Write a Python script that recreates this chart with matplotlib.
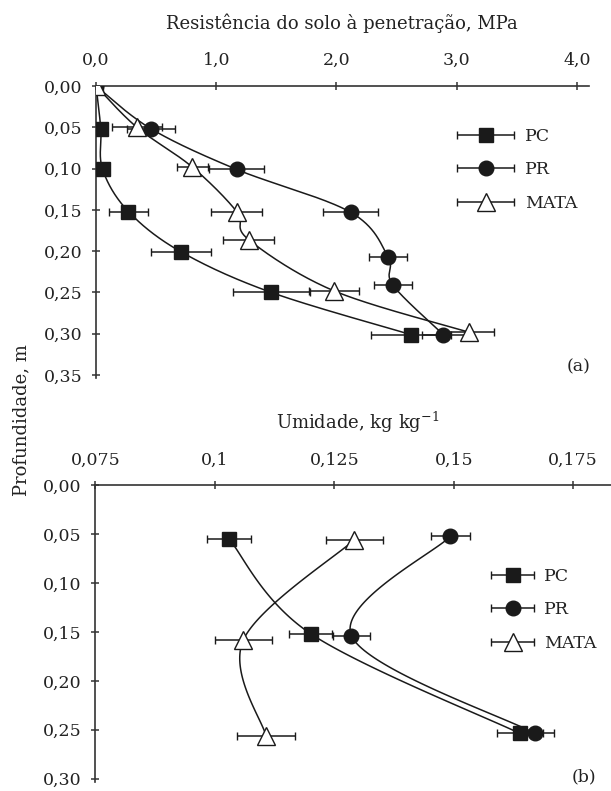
import numpy as np
import matplotlib
matplotlib.use('Agg')
import matplotlib.pyplot as plt
from matplotlib.container import ErrorbarContainer
from matplotlib.legend_handler import HandlerErrorbar

# ---------------- data: panel (a) penetration resistance (MPa) vs depth (m)
pc_a_x = [0.0, 0.04, 0.055, 0.27, 0.71, 1.46, 2.62]
pc_a_y = [0.0, 0.052, 0.101, 0.152, 0.201, 0.250, 0.301]
pc_a_err = [0.0, 0.0, 0.0, 0.16, 0.25, 0.32, 0.33]

pr_a_x = [0.0, 0.46, 1.17, 2.12, 2.43, 2.47, 2.89]
pr_a_y = [0.0, 0.052, 0.101, 0.153, 0.207, 0.241, 0.301]
pr_a_err = [0.0, 0.20, 0.23, 0.23, 0.16, 0.155, 0.18]

mata_a_x = [0.0, 0.34, 0.80, 1.17, 1.27, 1.98, 3.10]
mata_a_y = [0.0, 0.050, 0.098, 0.152, 0.186, 0.248, 0.298]
mata_a_err = [0.0, 0.21, 0.13, 0.21, 0.21, 0.21, 0.21]

# ---------------- data: panel (b) moisture (kg/kg) vs depth (m)
pc_b_x = [0.1030, 0.1201, 0.1638]
pc_b_y = [0.0552, 0.152, 0.2536]
pc_b_err = [0.0046, 0.0045, 0.0048]

pr_b_x = [0.1493, 0.1286, 0.1670]
pr_b_y = [0.0525, 0.154, 0.2536]
pr_b_err = [0.0040, 0.0039, 0.0040]

mata_b_x = [0.1292, 0.1060, 0.1107]
mata_b_y = [0.056, 0.158, 0.256]
mata_b_err = [0.006, 0.006, 0.006]

series_names = ['PC', 'PR', 'MATA']

xticks_a = [0, 1, 2, 3, 4]
xticklabels_a = ['0,0', '1,0', '2,0', '3,0', '4,0']
yticks_a = [0.0, 0.05, 0.10, 0.15, 0.20, 0.25, 0.30, 0.35]
yticklabels_a = ['0,00', '0,05', '0,10', '0,15', '0,20', '0,25', '0,30', '0,35']

xticks_b = [0.075, 0.1, 0.125, 0.15, 0.175]
xticklabels_b = ['0,075', '0,1', '0,125', '0,15', '0,175']
yticks_b = [0.0, 0.05, 0.10, 0.15, 0.20, 0.25, 0.30]
yticklabels_b = ['0,00', '0,05', '0,10', '0,15', '0,20', '0,25', '0,30']

# ---------------- style
plt.rcParams['font.family'] = ['DejaVu Serif']
plt.rcParams['mathtext.fontset'] = 'dejavuserif'
TXT = '#222222'
AXC = '#333333'
FS = 12.5

W, H = 611, 791
fig = plt.figure(figsize=(W / 100, H / 100), dpi=100)

ax1 = fig.add_axes([96 / W, 1 - 378.4 / H, 492.8 / W, 292.4 / H])
ax2 = fig.add_axes([95.3 / W, 1 - 781.7 / H, 515.7 / W, 296.7 / H])

ax1.set_xlim(0, 4.1)
ax1.set_ylim(0.354, 0)
ax2.set_xlim(0.075, 0.1829)
ax2.set_ylim(0.303, 0)


def smooth(ax, x, y, n=50):
    pts = ax.transData.transform(np.column_stack([x, y]))
    P = np.vstack([pts[0], pts, pts[-1]])
    out = []
    t = np.linspace(0, 1, n)[:, None]
    for i in range(1, len(P) - 2):
        p0, p1, p2, p3 = P[i - 1], P[i], P[i + 1], P[i + 2]
        c1 = p1 + (p2 - p0) / 6
        c2 = p2 - (p3 - p1) / 6
        b = (1 - t) ** 3 * p1 + 3 * (1 - t) ** 2 * t * c1 + 3 * (1 - t) * t ** 2 * c2 + t ** 3 * p2
        out.append(b)
    d = ax.transData.inverted().transform(np.vstack(out))
    return d[:, 0], d[:, 1]


styles = {
    'PC': dict(fmt='s', ms=10.5, mfc='#1a1a1a', mec='#1a1a1a'),
    'PR': dict(fmt='o', ms=10.5, mfc='#1a1a1a', mec='#1a1a1a'),
    'MATA': dict(fmt='^', ms=13, mfc='white', mec='#1a1a1a'),
}


def draw(ax, data):
    handles = []
    for name, (x, y, e) in zip(series_names, data):
        sx, sy = smooth(ax, x, y)
        ax.plot(sx, sy, color='#1a1a1a', lw=1.1, zorder=2)
    for name, (x, y, e) in zip(series_names, data):
        st = styles[name]
        h = ax.errorbar(x, y, xerr=e, fmt=st['fmt'], ms=st['ms'], mfc=st['mfc'],
                        mec=st['mec'], mew=1.0, ecolor='#1a1a1a', elinewidth=1.1,
                        capsize=2.6, capthick=1.1, label=name, zorder=3)
        handles.append(h)
    return handles


h1 = draw(ax1, [(pc_a_x, pc_a_y, pc_a_err), (pr_a_x, pr_a_y, pr_a_err),
                (mata_a_x, mata_a_y, mata_a_err)])
h2 = draw(ax2, [(pc_b_x, pc_b_y, pc_b_err), (pr_b_x, pr_b_y, pr_b_err),
                (mata_b_x, mata_b_y, mata_b_err)])

for ax, xt, xl, yt, yl, xpad in [(ax1, xticks_a, xticklabels_a, yticks_a, yticklabels_a, 9.5),
                                  (ax2, xticks_b, xticklabels_b, yticks_b, yticklabels_b, 8.5)]:
    ax.spines['right'].set_visible(False)
    ax.spines['bottom'].set_visible(False)
    for s in ('top', 'left'):
        ax.spines[s].set_color(AXC)
        ax.spines[s].set_linewidth(1.2)
    ax.xaxis.tick_top()
    ax.set_xticks(xt)
    ax.set_xticklabels(xl)
    ax.set_yticks(yt)
    ax.set_yticklabels(yl)
    ax.tick_params(axis='both', direction='inout', length=6, width=1.1, color=AXC,
                   labelsize=FS, labelcolor=TXT)
    ax.tick_params(axis='x', pad=xpad)
    ax.tick_params(axis='y', pad=6.8)
    ax.set_facecolor('none')

hm = {ErrorbarContainer: HandlerErrorbar(xerr_size=1.65)}
ax1.legend(handles=h1, loc='upper left', bbox_to_anchor=((456 - 96) / 492.8, 1 - (128 - 86) / 292.4),
           frameon=False, borderpad=0, borderaxespad=0, handlelength=3.4, handletextpad=0.6,
           labelspacing=0.95, numpoints=1, prop={'size': FS}, handler_map=hm,
           labelcolor=TXT)
ax2.legend(handles=h2, loc='upper left', bbox_to_anchor=((490 - 95.3) / 515.7, 1 - (568 - 485) / 296.7),
           frameon=False, borderpad=0, borderaxespad=0, handlelength=2.6, handletextpad=0.5,
           labelspacing=0.95, numpoints=1, prop={'size': FS},
           handler_map={ErrorbarContainer: HandlerErrorbar(xerr_size=1.25)},
           labelcolor=TXT)

ax1.text(1.003, 0.038, '(a)', transform=ax1.transAxes, ha='right', va='center',
         fontsize=FS, color=TXT)
ax2.text(0.972, 0.015, '(b)', transform=ax2.transAxes, ha='right', va='center',
         fontsize=FS, color=TXT)

fig.text(342 / W, 1 - 29 / H, 'Resistência do solo à penetração, MPa', ha='center',
         va='baseline', fontsize=13, color=TXT)
fig.text(358 / W, 1 - 429 / H, 'Umidade, kg kg$^{\\mathregular{-1}}$', ha='center',
         va='baseline', fontsize=13, color=TXT)
fig.text(21 / W, 1 - 420 / H, 'Profundidade, m', rotation=90, ha='center', va='center',
         fontsize=13, color=TXT)

fig.savefig('out.png', dpi=100)
